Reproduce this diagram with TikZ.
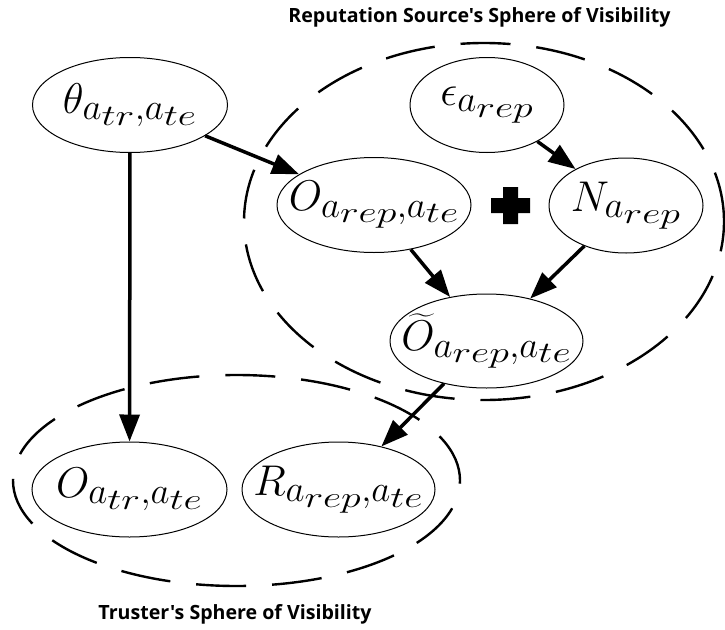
\RequirePackage{fix-cm}
\documentclass[tikz,border=0pt]{standalone}
\usepackage{exscale}
\usepackage{fontspec}
\usepackage{graphicx}
\usetikzlibrary{shapes.geometric,arrows.meta}
\newfontfamily\capfont{Open Sans}
\DeclareMathSizes{43}{43}{37}{29.5}
\newcommand{\sx}[1]{\hbox{\scalebox{1.35}[1]{$\scriptscriptstyle #1$}}}
\tikzset{
  varnode/.style={draw, ellipse, line width=1pt, inner sep=0pt},
  mathlbl/.style={inner sep=0pt, font=\fontsize{43}{48}\selectfont},
  sphere/.style={draw, ellipse, line width=2.4pt, dash pattern=on 50pt off 26pt, inner sep=0pt},
  arr/.style={line width=3.5pt, -{Triangle[length=27pt,width=20pt]}},
  captext/.style={font=\capfont\bfseries\fontsize{19.6}{23}\selectfont, inner sep=0pt, anchor=base},
  plusfill/.style={fill=black}
}
\begin{document}
\begin{tikzpicture}[x=1pt,y=-1pt]
\useasboundingbox (0,0) rectangle (725,629);
% spheres of visibility
\node[sphere, minimum width=480pt, minimum height=357pt] (repsph) at (484,221.5) {};
\node[sphere, minimum width=447pt, minimum height=211pt] (trsph) at (236.5,480.5) {};
\node[captext] (reptitle) at (479.5,23) {Reputation Source's Sphere of Visibility};
\node[captext] (trtitle) at (235,619) {Truster's Sphere of Visibility};
% variables
\node[varnode, minimum width=195pt, minimum height=95pt,
  label={[mathlbl]center:$\theta_{a_{\sx{tr}},a_{\sx{te}}}$}] (th) at (130,105) {};
\node[varnode, minimum width=154pt, minimum height=95pt,
  label={[mathlbl]center:$\epsilon_{a_{\sx{rep}}}$}] (eps) at (487,105) {};
\node[varnode, minimum width=194pt, minimum height=95pt,
  label={[mathlbl]center:$O_{a_{\sx{rep}},a_{\sx{te}}}$}] (orep) at (374,205) {};
\node[varnode, minimum width=154pt, minimum height=95pt,
  label={[mathlbl]center:$N_{a_{\sx{rep}}}$}] (nrep) at (626,205.5) {};
\node[varnode, minimum width=193pt, minimum height=94pt,
  label={[mathlbl]center:$\widetilde{O}_{a_{\sx{rep}},a_{\sx{te}}}$}] (ot) at (486.5,341) {};
\node[varnode, minimum width=195pt, minimum height=95pt,
  label={[mathlbl]center:$O_{a_{\sx{tr}},a_{\sx{te}}}$}] (otr) at (129.5,489.5) {};
\node[varnode, minimum width=193pt, minimum height=95pt,
  label={[mathlbl]center:$R_{a_{\sx{rep}},a_{\sx{te}}}$}] (rrep) at (338.5,489.5) {};
% plus sign
\fill[plusfill] (503,187) -- (518,187) -- (518,198) -- (530,198) -- (530,213) -- (518,213)
  -- (518,224) -- (503,224) -- (503,213) -- (491,213) -- (491,198) -- (503,198) -- cycle;
% arrows
\draw[arr] (th) -- (otr);
\draw[arr] (th) -- (orep);
\draw[arr] (eps) -- (nrep);
\draw[arr] (orep) -- (ot);
\draw[arr] (nrep) -- (ot);
\draw[arr] (ot) -- (rrep);
\end{tikzpicture}
\end{document}
